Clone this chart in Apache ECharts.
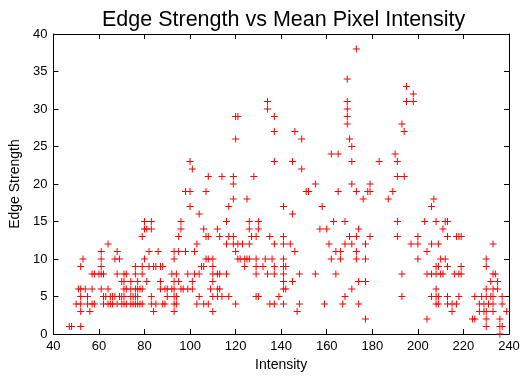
<!DOCTYPE html>
<html>
<head>
<meta charset="utf-8">
<script src="https://cdn.jsdelivr.net/npm/echarts@6/dist/echarts.min.js"></script>
<style>
  html, body { margin: 0; padding: 0; background: #fff; }
  #chart { width: 524px; height: 377px; }
</style>
</head>
<body>
<div id="chart"></div>
<script>
// edge strength levels, each with the intensities
var levels = [38, 34, 33, 32, 31, 30, 29, 28, 27, 26, 25, 24, 23, 22, 21, 20, 19, 18, 17, 16,
  15, 14, 13, 12, 11, 10, 9, 8, 7, 6, 5, 4, 3, 2, 1, 0];
var intensityAt = [
  [173],
  [169],
  [195],
  [198],
  [134, 169, 195, 198],
  [134, 169],
  [120, 121, 137, 169],
  [169, 193],
  [137, 146, 194],
  [120, 149, 170],
  [171],
  [162, 165, 190],
  [100, 137, 145, 171, 183, 191],
  [101, 149],
  [108, 114, 119, 128, 191, 194],
  [119, 155, 171, 179],
  [98, 100, 107, 151, 152, 165, 173, 178, 179, 189],
  [119, 125, 176, 187, 207],
  [100, 117, 141, 158, 206],
  [104, 145],
  [80, 83, 96, 116, 126, 130, 163, 168, 191, 203, 208, 212, 213],
  [80, 81, 83, 96, 106, 112, 126, 130, 157, 160, 174, 211],
  [79, 95, 107, 108, 113, 117, 119, 127, 129, 135, 141, 170, 173, 179, 191, 200, 213, 217, 218, 219],
  [64, 103, 116, 119, 121, 123, 126, 137, 141, 144, 161, 168, 171, 177, 197, 200, 206, 209, 233],
  [61, 68, 82, 86, 93, 95, 98, 102, 120, 146, 164, 166, 173, 204],
  [53, 61, 67, 69, 80, 93, 107, 108, 110, 121, 122, 124, 125, 126, 129, 133, 136, 141, 162, 166, 173, 177, 200, 210, 212, 230],
  [52, 61, 76, 79, 82, 84, 85, 87, 88, 105, 106, 110, 124, 129, 132, 137, 141, 142, 208, 209, 213, 219, 230],
  [57, 58, 60, 61, 62, 68, 71, 72, 76, 79, 92, 94, 99, 102, 104, 110, 112, 113, 116, 129, 134, 137, 141, 148, 155, 164, 193, 204, 206, 208, 210, 211, 216, 218, 219, 233, 234],
  [70, 71, 74, 77, 81, 87, 93, 95, 101, 110, 141, 145, 174, 177, 232, 235],
  [51, 52, 54, 57, 61, 64, 71, 72, 74, 76, 77, 78, 79, 87, 89, 90, 92, 93, 96, 97, 99, 101, 109, 112, 113, 141, 142, 171, 208, 230, 233, 235],
  [52, 55, 62, 63, 65, 66, 67, 69, 70, 71, 74, 75, 76, 77, 83, 90, 93, 94, 104, 110, 112, 114, 117, 129, 130, 139, 168, 193, 206, 208, 209, 213, 218, 225, 228, 230, 232, 233, 237],
  [50, 52, 55, 57, 58, 62, 64, 65, 66, 68, 70, 71, 72, 74, 75, 76, 77, 78, 79, 83, 85, 88, 89, 93, 94, 103, 106, 108, 120, 135, 137, 141, 148, 159, 167, 174, 208, 209, 213, 215, 217, 227, 229, 231, 233, 237],
  [52, 56, 84, 93, 110, 147, 215, 227, 229, 230, 233, 239],
  [177, 204, 224, 225, 230, 236],
  [47, 48, 52, 230, 236, 237],
  [236]
];
var xTicks = [40, 60, 80, 100, 120, 140, 160, 180, 200, 220, 240];
var yTicks = [0, 5, 10, 15, 20, 25, 30, 35, 40];

var points = [];
for (var i = 0; i < levels.length; i++) {
  for (var j = 0; j < intensityAt[i].length; j++) {
    points.push([intensityAt[i][j], levels[i]]);
  }
}

var font = 'Liberation Sans, Arial, Helvetica, sans-serif';
var plus = 'path://M3,0h1v3h3v1h-3v3h-1v-3h-3v-1h3z';

function boxAxis(pos, isX, ticks, showLabel, name) {
  var ax = {
    type: 'value',
    position: pos,
    min: ticks[0],
    max: ticks[ticks.length - 1],
    interval: ticks[1] - ticks[0],
    axisLine: { show: true, onZero: false, lineStyle: { color: '#000', width: 1 } },
    axisTick: { show: true, inside: true, length: 5, lineStyle: { color: '#000' } },
    axisLabel: { show: showLabel, color: '#000', fontSize: 13, fontFamily: font, margin: 6 },
    splitLine: { show: false }
  };
  if (name) {
    ax.name = name;
    ax.nameLocation = 'middle';
    ax.nameTextStyle = { color: '#000', fontSize: 14, fontFamily: font };
    ax.nameGap = isX ? 19 : 26;
  }
  return ax;
}

var myChart = echarts.init(document.getElementById('chart'));
myChart.setOption({
  animation: false,
  title: {
    text: 'Edge Strength vs Mean Pixel Intensity',
    left: 97,
    top: 4,
    textStyle: { color: '#000', fontSize: 21.5, fontWeight: 'normal', fontFamily: font }
  },
  grid: { left: 51, right: 15, top: 34, bottom: 37 },
  xAxis: [
    boxAxis('bottom', true, xTicks, true, 'Intensity'),
    boxAxis('top', true, xTicks, false)
  ],
  yAxis: [
    boxAxis('left', false, yTicks, true, 'Edge Strength'),
    boxAxis('right', false, yTicks, false)
  ],
  series: [{
    type: 'scatter',
    xAxisIndex: 0,
    yAxisIndex: 0,
    symbol: plus,
    symbolSize: 7,
    silent: true,
    emphasis: { disabled: true },
    itemStyle: { color: '#ff0000', opacity: 1 },
    data: points
  }]
});
</script>
</body>
</html>
